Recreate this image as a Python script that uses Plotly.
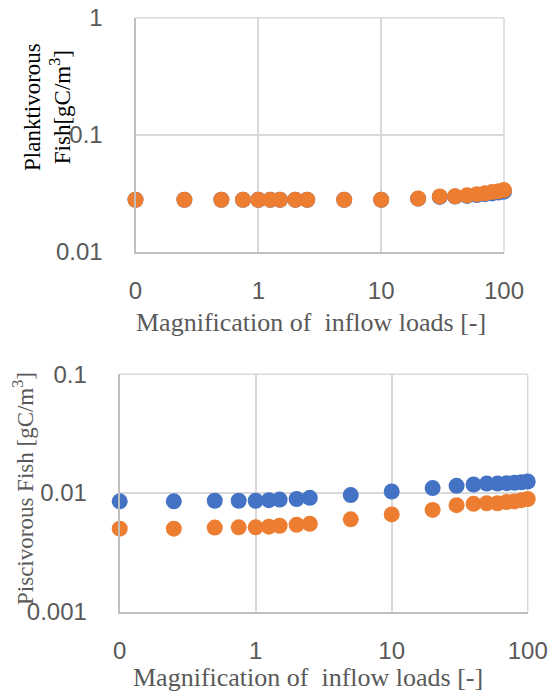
import plotly.graph_objects as go

W, H = 549, 695

magnification = [0.1, 0.25, 0.5, 0.75, 1, 1.25, 1.5, 2, 2.5, 5, 10, 20, 30, 40, 50, 60, 70, 80, 90, 100]

plank_blue = [0.0278, 0.0278, 0.0278, 0.0278, 0.0278, 0.0278, 0.0278, 0.0278, 0.0278, 0.0278,
              0.0278, 0.0284, 0.0294, 0.0296, 0.0300, 0.0305, 0.0310, 0.0315, 0.0320, 0.0326]
plank_orange = [0.0278, 0.0278, 0.0278, 0.0278, 0.0278, 0.0278, 0.0278, 0.0278, 0.0278, 0.0278,
                0.0278, 0.0285, 0.0297, 0.0298, 0.0303, 0.0310, 0.0316, 0.0323, 0.0329, 0.0336]

pisc_blue = [0.00851, 0.00851, 0.0086, 0.0086, 0.0086, 0.0087, 0.0088, 0.0089, 0.0091, 0.0096,
             0.0103, 0.0110, 0.0115, 0.0118, 0.0120, 0.0120, 0.0121, 0.0122, 0.0123, 0.0125]
pisc_orange = [0.00501, 0.00501, 0.00511, 0.00514, 0.00514, 0.0052, 0.0053, 0.0054, 0.0055, 0.0060,
               0.0066, 0.0072, 0.0079, 0.0081, 0.0082, 0.0082, 0.0084, 0.0085, 0.0087, 0.0089]

x_tickvals = [0.1, 1, 10, 100]
x_ticktext = ["0", "1", "10", "100"]
top_y_tickvals = [0.01, 0.1, 1]
top_y_ticktext = ["0.01", "0.1", "1"]
bot_y_tickvals = [0.001, 0.01, 0.1]
bot_y_ticktext = ["0.001", "0.01", "0.1"]

BLUE = "#4472C4"
ORANGE = "#ED7D31"
GRID = "#D9D9D9"
AXIS = "#BFBFBF"
TXT = "#595959"
TICKFONT = dict(family="Liberation Sans, Arial, sans-serif", size=24, color=TXT)
SERIF = "Liberation Serif, Times New Roman, serif"

def px_x(p):
    return p / W

def px_y(p):
    return 1 - p / H

fig = go.Figure()
mk = dict(size=16, line=dict(width=0))
fig.add_trace(go.Scatter(x=magnification, y=plank_blue, mode="markers", marker=dict(color=BLUE, **mk),
                         xaxis="x", yaxis="y", showlegend=False, cliponaxis=False))
fig.add_trace(go.Scatter(x=magnification, y=plank_orange, mode="markers", marker=dict(color=ORANGE, **mk),
                         xaxis="x", yaxis="y", showlegend=False, cliponaxis=False))
fig.add_trace(go.Scatter(x=magnification, y=pisc_blue, mode="markers", marker=dict(color=BLUE, **mk),
                         xaxis="x2", yaxis="y2", showlegend=False, cliponaxis=False))
fig.add_trace(go.Scatter(x=magnification, y=pisc_orange, mode="markers", marker=dict(color=ORANGE, **mk),
                         xaxis="x2", yaxis="y2", showlegend=False, cliponaxis=False))

def xax(domain, anchor):
    return dict(type="log", range=[-1, 2], domain=domain, anchor=anchor,
                tickvals=x_tickvals, ticktext=x_ticktext, tickfont=TICKFONT,
                showgrid=True, gridcolor=GRID, gridwidth=1.5,
                showline=True, linecolor=AXIS, linewidth=2, mirror=False,
                ticks="", ticklabelstandoff=16, zeroline=False, automargin=False)

def yax(domain, anchor, rng, tv, tt):
    return dict(type="log", range=rng, domain=domain, anchor=anchor,
                tickvals=tv, ticktext=tt, tickfont=TICKFONT,
                showgrid=True, gridcolor=GRID, gridwidth=1.5,
                showline=True, linecolor=AXIS, linewidth=2, mirror=False,
                ticks="", ticklabelstandoff=26, zeroline=False, automargin=False)

def border(xref, yref):
    return [
        dict(type="line", xref=f"{xref} domain", yref=f"{yref} domain", x0=0, x1=1, y0=1, y1=1,
             line=dict(color=GRID, width=1.5), layer="below"),
        dict(type="line", xref=f"{xref} domain", yref=f"{yref} domain", x0=1, x1=1, y0=0, y1=1,
             line=dict(color=GRID, width=1.5), layer="below"),
    ]

fig.update_layout(
    width=W, height=H,
    margin=dict(l=0, r=0, t=0, b=0),
    paper_bgcolor="white", plot_bgcolor="white",
    xaxis=xax([px_x(135.5), px_x(504)], "y"),
    yaxis=yax([px_y(251.7), px_y(17.7)], "x", [-2, 0], top_y_tickvals, top_y_ticktext),
    xaxis2=xax([px_x(119.7), px_x(527.7)], "y2"),
    yaxis2=yax([px_y(611.7), px_y(374.3)], "x2", [-3, -1], bot_y_tickvals, bot_y_ticktext),
    shapes=border("x", "y") + border("x2", "y2"),
    annotations=[
        dict(text="Magnification of \u00a0inflow loads [-]", x=px_x(311), y=px_y(323), xref="paper", yref="paper",
             showarrow=False, xanchor="center", yanchor="middle",
             font=dict(family=SERIF, size=26, color=TXT)),
        dict(text="Magnification of \u00a0inflow loads [-]", x=px_x(308), y=px_y(677), xref="paper", yref="paper",
             showarrow=False, xanchor="center", yanchor="middle",
             font=dict(family=SERIF, size=26, color=TXT)),
        dict(text="Planktivorous<br>Fish[gC/m<sup>3</sup>]", x=px_x(48), y=px_y(107), xref="paper", yref="paper",
             showarrow=False, xanchor="center", yanchor="middle", textangle=-90,
             font=dict(family=SERIF, size=23, color="#000000")),
        dict(text="Piscivorous Fish [gC/m<sup>3</sup>]", x=px_x(23), y=px_y(489), xref="paper", yref="paper",
             showarrow=False, xanchor="center", yanchor="middle", textangle=-90,
             font=dict(family=SERIF, size=23, color=TXT)),
    ],
)

fig.write_html("out.html")
